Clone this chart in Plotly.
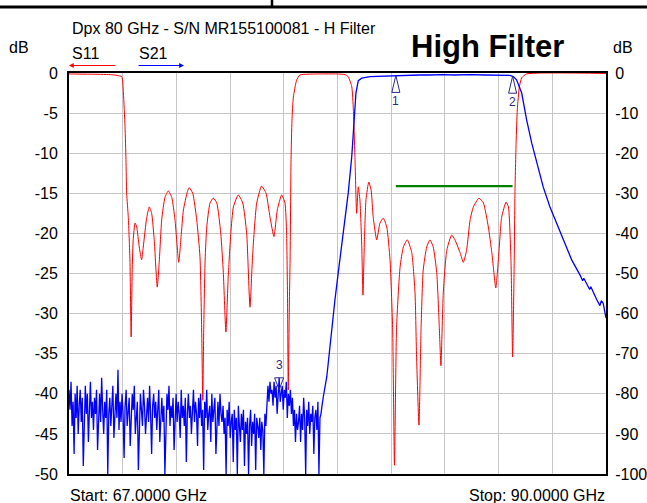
import numpy as np
import plotly.graph_objects as go

# ---------------- data ----------------
freq_start, freq_stop = 67.0, 90.0
x_grid_step = 2.3
left_ticks = [0, -5, -10, -15, -20, -25, -30, -35, -40, -45, -50]
right_ticks = [0, -10, -20, -30, -40, -50, -60, -70, -80, -90, -100]

# S11 (left axis, dB)
s11_f = [67.00, 67.90, 68.76, 69.06, 69.26, 69.33, 69.40, 69.44, 69.47, 69.54,
         69.61, 69.66, 69.71, 69.75, 69.83, 69.90, 70.01, 70.11, 70.18, 70.33,
         70.44, 70.54, 70.65, 70.78, 70.87, 70.97, 71.11, 71.25, 71.40, 71.54,
         71.70, 71.80, 71.90, 72.07, 72.15, 72.30, 72.47, 72.61, 72.68, 72.73,
         72.77, 72.83, 72.90, 73.04, 73.18, 73.33, 73.50, 73.61, 73.72, 73.82,
         73.93, 74.04, 74.25, 74.44, 74.61, 74.75, 74.87, 75.04, 75.25, 75.44,
         75.61, 75.78, 75.92, 76.11, 76.25, 76.32, 76.36, 76.39, 76.44, 76.47,
         76.51, 76.55, 76.61, 76.75, 76.89, 77.75, 78.47, 78.82, 78.96, 79.11,
         79.18, 79.25, 79.32, 79.39, 79.46, 79.54, 79.59, 79.65, 79.72, 79.84,
         79.94, 80.03, 80.18, 80.32, 80.46, 80.61, 80.75, 80.86, 80.94, 81.03,
         81.18, 81.32, 81.49, 81.68, 81.82, 81.89, 81.99, 82.08, 82.17, 82.32,
         82.46, 82.60, 82.75, 82.86, 82.93, 83.03, 83.18, 83.39, 83.53, 83.75,
         83.89, 84.03, 84.18, 84.32, 84.56, 84.75, 84.96, 85.11, 85.28, 85.39,
         85.53, 85.72, 85.82, 85.93, 86.00, 86.07, 86.10, 86.15, 86.20, 86.29,
         86.39, 86.60, 90.00]
s11_db = [-0.12, -0.15, -0.2, -0.3, -0.46, -2.5, -6.7, -10.8, -15.0, -18.0,
          -23.3, -32.9, -24.2, -20.8, -18.7, -19.2, -21.7, -23.3, -21.7, -18.0,
          -16.7, -17.5, -20.8, -26.7, -23.3, -18.3, -15.5, -14.7, -15.5, -18.3,
          -23.6, -20.4, -17.1, -14.8, -14.3, -15.0, -18.3, -22.9, -31.7, -40.8,
          -32.0, -23.3, -19.2, -16.2, -15.6, -16.2, -20.0, -24.9, -32.3, -25.4,
          -20.0, -16.7, -15.2, -16.2, -20.0, -29.2, -22.4, -16.2, -14.1, -15.0,
          -18.0, -20.4, -17.1, -15.2, -16.2, -20.0, -28.3, -39.5, -28.3, -23.3,
          -10.8, -5.9, -3.0, -0.9, -0.25, -0.12, -0.12, -0.2, -0.46, -1.7,
          -4.6, -10.8, -17.5, -14.2, -15.8, -21.7, -27.7, -21.2, -15.8, -13.6,
          -14.6, -18.0, -20.8, -18.7, -18.1, -19.2, -23.3, -31.7, -48.9, -31.7,
          -24.2, -21.7, -20.8, -22.4, -27.4, -35.8, -43.9, -31.7, -24.6, -21.7,
          -20.8, -21.7, -24.9, -31.7, -36.5, -27.4, -22.1, -20.2, -20.8, -22.4,
          -23.6, -22.1, -18.3, -16.7, -15.6, -16.2, -19.2, -22.4, -26.8, -23.3,
          -18.0, -16.1, -16.7, -23.3, -35.4, -23.3, -15.0, -8.7, -4.6, -1.7,
          -0.6, -0.12, -0.06]

# S21 (right axis, dB): noise floor read from the sweep, 67.00 .. 77.88 GHz
s21_noise_start, s21_noise_stop = 67.0, 77.88
s21_noise_db = [
    -79, -84, -77, -88, -82, -95, -80, -86, -78, -90, -83, -79, -87, -81, -98, -84, -78, -85, -80, -92, -83, -77, -86, -82, -89,
    -81, -85, -79, -94, -83, -80, -87, -76, -84, -90, -82, -86, -79, -100, -85, -81, -88, -83, -78, -91, -84, -80, -86, -74, -89,
    -82, -87, -80, -85, -96, -83, -79, -88, -84, -81, -93, -86, -80, -84, -78, -90, -85, -82, -99, -86, -80, -84, -88, -79, -83,
    -90, -84, -81, -87, -78, -85, -95, -83, -80, -86, -82, -89, -84, -79, -92, -85, -81, -87, -83, -100, -86, -80, -84, -78, -88,
    -83, -86, -81, -94, -84, -80, -87, -82, -85, -91, -79, -86, -83, -88, -81, -97, -85, -80, -86, -83, -90, -84, -79, -87, -82,
    -85, -93, -81, -86, -80, -88, -84, -99, -82, -86, -79, -89, -85, -83, -92, -80, -87, -84, -81, -95, -86, -82, -88, -80, -85,
    -87, -83, -90, -86, -100, -84, -88, -82, -91, -87, -85, -97, -84, -89, -86, -100, -83, -88, -92, -85, -89, -84, -98, -87, -90,
    -86, -100, -88, -84, -93, -87, -90, -85, -99, -86, -88, -91, -86, -94, -87, -89, -100, -85, -88, -81, -78, -82, -77, -80, -79,
    -83, -77, -81, -78, -85, -79, -76, -82, -80, -78, -84, -79, -81, -77, -86, -80, -83, -79, -85, -81, -88, -84, -92, -85, -89,
    -87, -83, -92, -85, -89, -81, -86, -100, -84, -88, -82, -90, -85, -87, -83, -95, -86, -84, -89, -82, -100, -86, -85, -83, -81,
]
# S21 rise, passband and roll-off
s21_f_tail = [77.89, 78.04, 78.15, 78.25, 78.39, 78.53, 78.68, 78.82, 78.96, 79.11,
              79.21, 79.29, 79.39, 79.54, 79.89, 80.30, 80.75, 81.00, 81.50, 82.00,
              82.46, 83.00, 83.50, 84.18, 84.80, 85.46, 85.89, 86.03, 86.17, 86.39,
              86.60, 86.82, 87.03, 87.31, 87.60, 87.89, 88.17, 88.53, 88.89, 89.00,
              89.05, 89.17, 89.30, 89.35, 89.46, 89.60, 89.74, 89.80, 89.88, 89.95, 90.00]
s21_db_tail = [-80.8, -75.8, -69.8, -63.3, -56.6, -49.9, -43.4, -36.7, -29.9, -20.9,
               -11.7, -5.0, -1.9, -1.3, -0.9, -0.8, -0.7, -0.6, -0.6, -0.5,
               -0.5, -0.4, -0.5, -0.4, -0.5, -0.5, -0.6, -0.9, -1.7, -5.0,
               -11.7, -17.5, -22.4, -28.4, -33.4, -37.5, -41.5, -46.6, -50.4, -51.8,
               -51.2, -52.4, -54.0, -53.3, -54.9, -56.5, -58.0, -56.8, -57.4, -59.5, -61.1]

# spec line (left axis)
spec_f = [81.0, 86.0]
spec_db = [-14.1, -14.1]

# markers (on S21, right axis)
marker_labels = ["1", "2", "3"]
marker_f = [81.0, 86.0, 76.0]
marker_db = [-0.6, -0.8, -79.0]
marker_dir = ["up", "up", "down"]

# ---------------- figure ----------------
W, H = 647, 503
ML, MR, MT, MB = 69, 41, 73, 29
PW, PH = W - ML - MR, H - MT - MB
ghz_per_px = (freq_stop - freq_start) / PW
db2_per_px = (right_ticks[0] - right_ticks[-1]) / PH


def px(xp):
    return (xp - ML) / PW


def py(yp):
    return (H - MB - yp) / PH


s21_f = list(np.linspace(s21_noise_start, s21_noise_stop, len(s21_noise_db))) + s21_f_tail
s21_db = list(s21_noise_db) + s21_db_tail

FONT = "Arial, Liberation Sans, sans-serif"
NAVY = "#2a2a86"

fig = go.Figure()
fig.add_trace(go.Scatter(x=s21_f, y=s21_db, yaxis="y2", mode="lines",
                         line=dict(color="#0000ff", width=1.3), hoverinfo="skip"))
fig.add_trace(go.Scatter(x=s11_f, y=s11_db, mode="lines",
                         line=dict(color="#ff0000", width=1, shape="spline", smoothing=0.5),
                         hoverinfo="skip"))
fig.add_trace(go.Scatter(x=spec_f, y=spec_db, mode="lines",
                         line=dict(color="#008000", width=2.2), hoverinfo="skip"))

# marker triangles
tx, ty = [], []
annotations = []
for lab, f, v, d in zip(marker_labels, marker_f, marker_db, marker_dir):
    if d == "up":
        dx, dy = 4 * ghz_per_px, 17 * db2_per_px
        tx += [f, f - dx, f + dx, f, None]
        ty += [v, v - dy, v - dy, v, None]
        shift = -26
    else:
        dx, dy = 4.5 * ghz_per_px, 12 * db2_per_px
        tx += [f, f - dx, f + dx, f, None]
        ty += [v, v + dy, v + dy, v, None]
        shift = 25
    annotations.append(dict(x=f, y=v, xref="x", yref="y2", text=lab, showarrow=False,
                            yshift=shift, font=dict(size=12, color=NAVY, family=FONT)))
fig.add_trace(go.Scatter(x=tx, y=ty, yaxis="y2", mode="lines",
                         line=dict(color=NAVY, width=1), hoverinfo="skip"))

# texts
def txt(x, y, s, xa="left", size=16, bold=False):
    annotations.append(dict(x=px(x), y=py(y), xref="paper", yref="paper",
                            text=("<b>%s</b>" % s) if bold else s, showarrow=False,
                            xanchor=xa, yanchor="middle",
                            font=dict(size=size, color="black", family=FONT)))

txt(70, 29, "Dpx 80 GHz - S/N MR155100081 - H Filter")
txt(18.5, 47, "dB", xa="center")
txt(623, 47, "dB", xa="center")
txt(70, 53, "S11")
txt(137, 53, "S21")
txt(487, 46, "High Filter", xa="center", size=31, bold=True)
txt(68, 495, "Start: 67.0000 GHz")
txt(607, 495, "Stop: 90.0000 GHz", xa="right")

# legend arrows
annotations.append(dict(x=px(69), y=py(65.5), xref="paper", yref="paper", ax=48, ay=0,
                        axref="pixel", ayref="pixel", showarrow=True, arrowhead=2,
                        arrowsize=0.8, arrowwidth=1.2, arrowcolor="#ff0000", text=""))
annotations.append(dict(x=px(184), y=py(65.5), xref="paper", yref="paper", ax=-47, ay=0,
                        axref="pixel", ayref="pixel", showarrow=True, arrowhead=2,
                        arrowsize=0.8, arrowwidth=1.2, arrowcolor="#0000ff", text=""))

shapes = [
    dict(type="line", xref="paper", yref="paper", x0=px(0), x1=px(W), y0=py(7), y1=py(7),
         line=dict(color="black", width=3)),
    dict(type="line", xref="paper", yref="paper", x0=px(272), x1=px(272), y0=py(0), y1=py(7),
         line=dict(color="black", width=2.5)),
]

grid = "#c6c6c6"
fig.update_layout(
    width=W, height=H, autosize=False,
    margin=dict(l=ML, r=MR, t=MT, b=MB, pad=0, autoexpand=False),
    plot_bgcolor="white", paper_bgcolor="white",
    showlegend=False,
    font=dict(family=FONT, size=16, color="black"),
    xaxis=dict(range=[freq_start, freq_stop], tick0=freq_start, dtick=x_grid_step,
               showticklabels=False, ticks="", showgrid=True, gridcolor=grid, gridwidth=1.3,
               zeroline=False, showline=True, linecolor="black", linewidth=2, mirror=True,
               automargin=False),
    yaxis=dict(range=[left_ticks[-1], left_ticks[0]], tickvals=left_ticks,
               ticktext=[str(t) for t in left_ticks], showgrid=True, gridcolor=grid,
               gridwidth=1.3, zeroline=False, showline=True, linecolor="black", linewidth=2,
               mirror=True, ticks="outside", ticklen=6, tickcolor="rgba(0,0,0,0)",
               tickfont=dict(size=16), automargin=False),
    yaxis2=dict(range=[right_ticks[-1], right_ticks[0]], tickvals=right_ticks,
                ticktext=[str(t) for t in right_ticks], overlaying="y", side="right",
                showgrid=False, zeroline=False, ticks="outside", ticklen=5,
                tickcolor="rgba(0,0,0,0)", tickfont=dict(size=16), automargin=False),
    annotations=annotations,
    shapes=shapes,
)

post = ("var st=document.createElement('style');"
        "st.textContent='html,body{margin:0;padding:0;overflow:hidden;}';"
        "document.head.appendChild(st);")

fig.write_html("out.html",
               config={"displayModeBar": False},
               post_script=post)
